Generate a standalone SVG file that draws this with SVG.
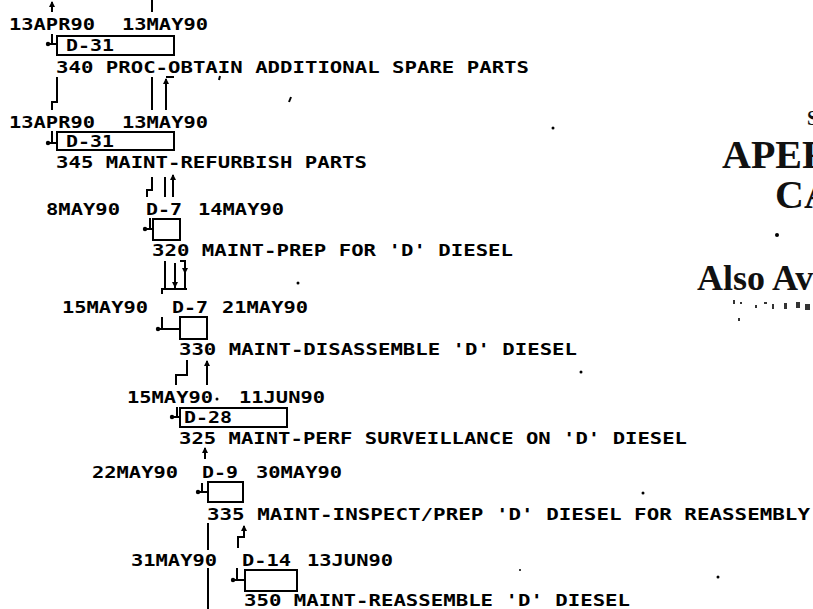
<svg xmlns="http://www.w3.org/2000/svg" width="813" height="609" viewBox="0 0 813 609">
<style>
.t{font-family:"DejaVu Sans Mono","Liberation Mono",monospace;font-size:16.5px;font-weight:bold;fill:#000}
.box{fill:none;stroke:#000;stroke-width:2}
.ln{fill:none;stroke:#000;stroke-width:2}
.dot{fill:#000}
.big{font-family:"Liberation Serif","DejaVu Serif",serif;font-weight:bold;fill:#111}
</style>
<defs>
<marker id="ah" viewBox="0 0 6 6" refX="5" refY="3" markerWidth="6" markerHeight="6" orient="auto" markerUnits="userSpaceOnUse">
<path d="M0,0 L6,3 L0,6 Z" fill="#000"/>
</marker>
</defs>
<rect width="813" height="609" fill="#fff"/>

<g id="n340">
<text class="t" x="9" y="30" textLength="86" lengthAdjust="spacingAndGlyphs">13APR90</text>
<text class="t" x="122" y="30" textLength="86" lengthAdjust="spacingAndGlyphs">13MAY90</text>
<rect class="box" x="57" y="36" width="117" height="19"/>
<text class="t" x="66" y="51" textLength="48" lengthAdjust="spacingAndGlyphs">D-31</text>
<text class="t" x="56" y="73" textLength="473" lengthAdjust="spacingAndGlyphs">340 PROC-OBTAIN ADDITIONAL SPARE PARTS</text>
</g>

<g id="n345">
<text class="t" x="9" y="128" textLength="86" lengthAdjust="spacingAndGlyphs">13APR90</text>
<text class="t" x="122" y="128" textLength="86" lengthAdjust="spacingAndGlyphs">13MAY90</text>
<rect class="box" x="57" y="132" width="117" height="18"/>
<text class="t" x="66" y="147" textLength="48" lengthAdjust="spacingAndGlyphs">D-31</text>
<text class="t" x="56" y="168" textLength="311" lengthAdjust="spacingAndGlyphs">345 MAINT-REFURBISH PARTS</text>
</g>

<g id="n320">
<text class="t" x="46" y="215" textLength="74" lengthAdjust="spacingAndGlyphs">8MAY90</text>
<text class="t" x="146" y="215" textLength="36" lengthAdjust="spacingAndGlyphs">D-7</text>
<text class="t" x="198" y="215" textLength="86" lengthAdjust="spacingAndGlyphs">14MAY90</text>
<rect class="box" x="153" y="219" width="27" height="21"/>
<text class="t" x="152" y="256" textLength="361" lengthAdjust="spacingAndGlyphs">320 MAINT-PREP FOR 'D' DIESEL</text>
</g>

<g id="n330">
<text class="t" x="62" y="313" textLength="86" lengthAdjust="spacingAndGlyphs">15MAY90</text>
<text class="t" x="172" y="313" textLength="36" lengthAdjust="spacingAndGlyphs">D-7</text>
<text class="t" x="222" y="313" textLength="86" lengthAdjust="spacingAndGlyphs">21MAY90</text>
<rect class="box" x="180" y="317" width="27" height="22"/>
<text class="t" x="179" y="355" textLength="398" lengthAdjust="spacingAndGlyphs">330 MAINT-DISASSEMBLE 'D' DIESEL</text>
</g>

<g id="n325">
<text class="t" x="127" y="403" textLength="86" lengthAdjust="spacingAndGlyphs">15MAY90</text>
<text class="t" x="239" y="403" textLength="86" lengthAdjust="spacingAndGlyphs">11JUN90</text>
<rect class="box" x="180" y="408" width="107" height="19"/>
<text class="t" x="184" y="423" textLength="48" lengthAdjust="spacingAndGlyphs">D-28</text>
<text class="t" x="179" y="444" textLength="508" lengthAdjust="spacingAndGlyphs">325 MAINT-PERF SURVEILLANCE ON 'D' DIESEL</text>
</g>

<g id="n335">
<text class="t" x="92" y="478" textLength="86" lengthAdjust="spacingAndGlyphs">22MAY90</text>
<text class="t" x="202" y="478" textLength="36" lengthAdjust="spacingAndGlyphs">D-9</text>
<text class="t" x="256" y="478" textLength="86" lengthAdjust="spacingAndGlyphs">30MAY90</text>
<rect class="box" x="208" y="482" width="35" height="20"/>
<text class="t" x="207" y="520" textLength="603" lengthAdjust="spacingAndGlyphs">335 MAINT-INSPECT/PREP 'D' DIESEL FOR REASSEMBLY</text>
</g>

<g id="n350">
<text class="t" x="131" y="566" textLength="86" lengthAdjust="spacingAndGlyphs">31MAY90</text>
<text class="t" x="242" y="566" textLength="49" lengthAdjust="spacingAndGlyphs">D-14</text>
<text class="t" x="307" y="566" textLength="86" lengthAdjust="spacingAndGlyphs">13JUN90</text>
<rect class="box" x="245" y="570" width="52" height="21"/>
<text class="t" x="244" y="606" textLength="386" lengthAdjust="spacingAndGlyphs">350 MAINT-REASSEMBLE 'D' DIESEL</text>
</g>

<g id="connectors">
<path class="ln" d="M52,12 V2" marker-end="url(#ah)"/>
<path class="ln" d="M152,0 V12"/>
<path class="ln" d="M52,34 V44 M47,44 H57"/><circle class="dot" cx="48" cy="44" r="2.2"/>
<path class="ln" d="M52,131 V143 M47,143 H57"/><circle class="dot" cx="48" cy="143" r="2.2"/>
<path class="ln" d="M150,218 V229 M144,229 H153"/><circle class="dot" cx="145" cy="229" r="2.2"/>
<path class="ln" d="M162,317 V329 M157,329 H180"/><circle class="dot" cx="158" cy="329" r="2.2"/>
<path class="ln" d="M177,407 V417 M171,417 H180"/><circle class="dot" cx="172" cy="417" r="2.2"/>
<path class="ln" d="M202,483 V492 M197,492 H208"/><circle class="dot" cx="198" cy="492" r="2.2"/>
<path class="ln" d="M237,568 V580 M232,580 H245"/><circle class="dot" cx="233" cy="580" r="2.2"/>
<path class="ln" d="M57,77 V102 H52 V110"/>
<path class="ln" d="M152,77 V110"/>
<path class="ln" d="M166,110 V79" marker-end="url(#ah)"/>
<path class="ln" d="M166,77 H174"/>
<path class="ln" d="M152,177 V190 H147 V197"/>
<path class="ln" d="M165,177 V197"/>
<path class="ln" d="M173,197 V175" marker-end="url(#ah)"/>
<path class="ln" d="M165,261 V289"/>
<path class="ln" d="M175,263 V289"/>
<path class="ln" d="M180,261 H185 V289"/>
<path class="ln" d="M185,266 V273" marker-end="url(#ah)"/>
<path class="ln" d="M175,280 V287" marker-end="url(#ah)"/>
<path class="ln" d="M162,294 V289 H187"/>
<path class="ln" d="M187,360 V375 H176 V385"/>
<path class="ln" d="M207,385 V361" marker-end="url(#ah)"/>
<path class="ln" d="M205,459 V448" marker-end="url(#ah)"/>
<path class="ln" d="M208,523 V550 M208,568 V609"/>
<path class="ln" d="M238,548 V537 H244 V526" marker-end="url(#ah)"/>
</g>

<g id="specks">
<circle class="dot" cx="217" cy="399" r="1.5"/>
<circle class="dot" cx="298" cy="283" r="1.5"/>
<circle class="dot" cx="553" cy="128" r="1.5"/>
<path class="ln" d="M291,97 L289,102" stroke-width="1.5"/>
<path class="ln" d="M220,76 L219,80" stroke-width="1.5"/>
<circle class="dot" cx="581" cy="372" r="1.5"/>
<circle class="dot" cx="643" cy="493" r="1.5"/>
<circle class="dot" cx="718" cy="577" r="1.5"/>
<circle class="dot" cx="520" cy="570" r="1"/>
<circle class="dot" cx="777" cy="235" r="2"/>
</g>

<g id="cover-text">
<text class="big" x="807" y="125" font-size="20">S</text>
<text class="big" x="722" y="168" font-size="40">APER</text>
<text class="big" x="775" y="208" font-size="40">CA</text>
<text class="big" x="697" y="290" font-size="36">Also Ava</text>
<g fill="#333">
<rect x="733" y="300" width="2" height="4"/><rect x="740" y="302" width="2" height="2"/>
<rect x="755" y="305" width="2" height="3"/><rect x="764" y="302" width="3" height="2"/>
<rect x="772" y="304" width="2" height="5"/><rect x="784" y="303" width="3" height="6"/>
<rect x="796" y="302" width="4" height="6"/><rect x="805" y="304" width="5" height="6"/>
<rect x="738" y="318" width="2" height="3"/>
</g>
</g>
</svg>
